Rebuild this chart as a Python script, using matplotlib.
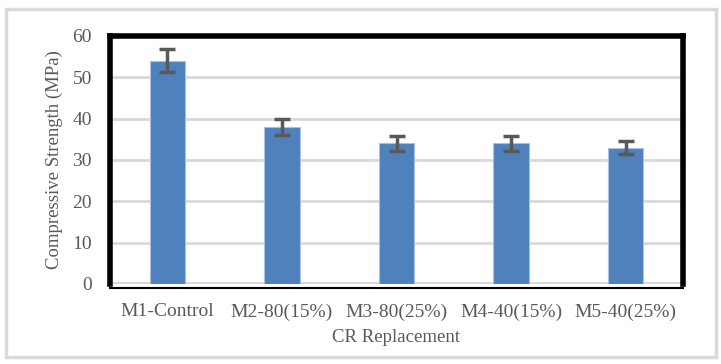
import matplotlib
matplotlib.use("Agg")
import matplotlib.pyplot as plt
from matplotlib.patches import Rectangle

categories = ["M1-Control", "M2-80(15%)", "M3-80(25%)", "M4-40(15%)", "M5-40(25%)"]
values = [54, 38, 34, 34, 33]
errors = [2.8, 2.0, 1.8, 1.8, 1.6]
yticks = [0, 10, 20, 30, 40, 50, 60]

txt = "#595959"
plt.rcParams['font.family'] = ['Liberation Serif', 'DejaVu Serif']

fig = plt.figure(figsize=(7.21, 3.64), dpi=100)
fig.patches.append(Rectangle((6/721, 1-357/364), 710/721, 348/364, transform=fig.transFigure,
                             fill=False, edgecolor="#d9d9d9", linewidth=2.5, zorder=0))
ax = fig.add_axes([110/721, 1-284/364, 573/721, 248/364])

x = list(range(len(categories)))
ax.bar(x, values, width=0.31, color="#4f81bd", edgecolor="#a9c0de", linewidth=0.8, zorder=3)
ax.errorbar(x, values, yerr=errors, fmt="none", ecolor="#595959", elinewidth=2.5,
            capsize=5.5, capthick=2.5, zorder=4)

ax.set_xlim(-0.5, 4.5)
ax.set_ylim(0, 60)
ax.set_yticks(yticks)
ax.set_xticks(x)
ax.set_xticklabels(categories)
ax.grid(axis="y", color="#d9d9d9", linewidth=2, zorder=0)
ax.axhline(0, color="#d9d9d9", linewidth=3, zorder=2)
ax.tick_params(length=0, labelsize=14, colors=txt)
ax.tick_params(axis="y", pad=13)
ax.tick_params(axis="x", pad=11)

for s in ["left", "top", "right"]:
    ax.spines[s].set_color("black")
    ax.spines[s].set_linewidth(4)
ax.spines["bottom"].set_color("black")
ax.spines["bottom"].set_linewidth(1.5)
ax.spines["bottom"].set_position(("outward", 3))

ax.set_ylabel("Compressive Strength (MPa)", fontsize=13.5, color=txt, labelpad=7)
ax.set_xlabel("CR Replacement", fontsize=13.5, color=txt, labelpad=6)

fig.savefig("out.png", dpi=100)
